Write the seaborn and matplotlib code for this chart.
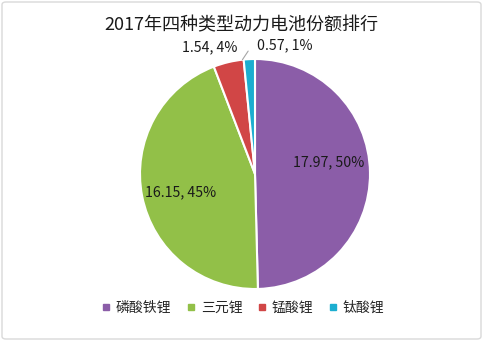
import numpy as np
import matplotlib
matplotlib.use("Agg")
import matplotlib.pyplot as plt
from matplotlib.patches import FancyBboxPatch
import seaborn as sns

sns.set_theme(style="white")
plt.rcParams["font.family"] = ["Noto Sans CJK SC", "DejaVu Sans"]

# Market share of four power-battery chemistries, 2017
categories = ["磷酸铁锂", "三元锂", "锰酸锂", "钛酸锂"]
values = [17.97, 16.15, 1.54, 0.57]
percent_labels = ["50%", "45%", "4%", "1%"]
colors = ["#8B5DA8", "#92C048", "#D14646", "#1CAED0"]

W, H = 483, 341
fig = plt.figure(figsize=(W / 100, H / 100), dpi=100)
fig.patch.set_facecolor("white")

# outer rounded frame
frame = FancyBboxPatch((2 / W, 2 / H), 1 - 4 / W, 1 - 4 / H,
                       boxstyle="round,pad=0,rounding_size=0.008",
                       transform=fig.transFigure, fill=False,
                       edgecolor="#D9D9D9", linewidth=1.0)
fig.patches.append(frame)

# pie centred at (255, 174) px, radius 115 px
cx, cy, r = 255, 174, 115
ax = fig.add_axes([(cx - r) / W, (H - cy - r) / H, 2 * r / W, 2 * r / H])
wedges, _ = ax.pie(values, colors=colors, startangle=90, counterclock=False,
                   radius=1.0, wedgeprops=dict(edgecolor="white", linewidth=1.5))
ax.set_xlim(-1, 1)
ax.set_ylim(-1, 1)
ax.set_aspect("equal")
ax.axis("off")

lab_fs = 10.2
label_pos = [(0.64, 0.105), (-0.65, -0.155), (-0.39, 1.10), (0.02, 1.12)]
for i, w in enumerate(wedges):
    text = f"{values[i]:.2f}, {percent_labels[i]}"
    x, y = label_pos[i]
    if i < 3:
        ax.text(x, y, text, ha="center", va="center", fontsize=lab_fs, color="#1a1a1a")
    else:
        mid = np.deg2rad((w.theta1 + w.theta2) / 2)
        ex, ey = np.cos(mid), np.sin(mid)
        ax.plot([ex - 0.06, ex - 0.01], [ey - 0.005, ey + 0.07], color="#A6A6A6",
                linewidth=0.8, clip_on=False)
        ax.text(x, y, text, ha="left", va="center", fontsize=lab_fs, color="#1a1a1a")

fig.text(0.5, (H - 25) / H, "2017年四种类型动力电池份额排行", ha="center", va="center",
         fontsize=13, color="#1a1a1a")

handles = [plt.Line2D([], [], marker="s", linestyle="none", markersize=5,
                      markerfacecolor=c, markeredgecolor=c) for c in colors]
fig.legend(handles, categories, loc="center", bbox_to_anchor=(243 / W, (H - 308) / H),
           ncol=4, frameon=False, fontsize=10, handlelength=0.6, handletextpad=0.4,
           columnspacing=1.1)

fig.savefig("out.png", dpi=100, facecolor="white")
